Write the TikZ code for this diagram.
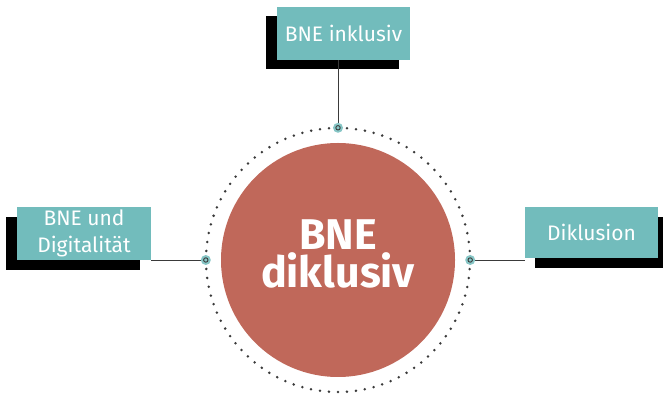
\documentclass[tikz,border=0pt]{standalone}
\usepackage{fontspec}
\setmainfont{Fira Sans}
\usetikzlibrary{positioning,shadows}
\definecolor{bneteal}{HTML}{72BCBC}
\definecolor{bnered}{HTML}{C0685A}
\definecolor{bneline}{HTML}{3A3A3A}
\begin{document}
\begin{tikzpicture}[x = 1pt, y = 1pt,
    topic/.style = {fill = bneteal, text = white, align = center, inner sep = 0pt,
      minimum height = 53pt, font = \fontsize{21}{27}\selectfont},
    hub/.style = {circle, fill = bneteal!85, inner sep = 0pt, minimum size = 10pt,
      path picture = {\draw[bneline, line width = .9pt] (path picture bounding box.center) circle (2.2pt);}},
    link/.style = {draw = bneline, line width = .9pt}]
  \useasboundingbox (0, 0) rectangle (663, 393);
  \def\ringradius{132}
  \def\coreradius{117}
  % mitte
  \node[circle, fill = bnered, minimum size = {2*\coreradius pt}, inner sep = 0pt] (core) at (338, 133) {};
  \node[text = white, align = center, font = \fontsize{43}{38}\selectfont\bfseries] (title) at ([yshift = 6pt]core.center) {BNE\\diklusiv};
  \node[circle, minimum size = {2*\ringradius pt}, inner sep = 0pt] (ring) at (core.center) {};
  \draw[bneline, line width = 2.8pt, line cap = round, dash pattern = on 0pt off 9.015pt] (core.center) circle (\ringradius);
  % themen
  \node[topic, minimum width = 133pt, general shadow = {fill = black, shadow xshift = -11pt, shadow yshift = -9pt}] (inklusiv) at (343.5, 359.5) {BNE inklusiv};
  \node[topic, minimum width = 134pt, general shadow = {fill = black, shadow xshift = -11pt, shadow yshift = -10pt}] (digital) at (84, 159.5) {BNE und\\Digitalität};
  \node[topic, minimum width = 133pt, minimum height = 51pt, general shadow = {fill = black, shadow xshift = 10pt, shadow yshift = -10pt}] (diklusion) at (591.5, 160.5) {Diklusion};
  % verbindungen
  \draw[link] (inklusiv.south -| ring.north) -- (ring.north);
  \draw[link] (digital.east |- ring.west) -- (ring.west);
  \draw[link] (ring.east) -- (diklusion.west |- ring.east);
  \foreach \side in {north, west, east}
    \node[hub] (hub-\side) at (ring.\side) {};
\end{tikzpicture}
\end{document}
